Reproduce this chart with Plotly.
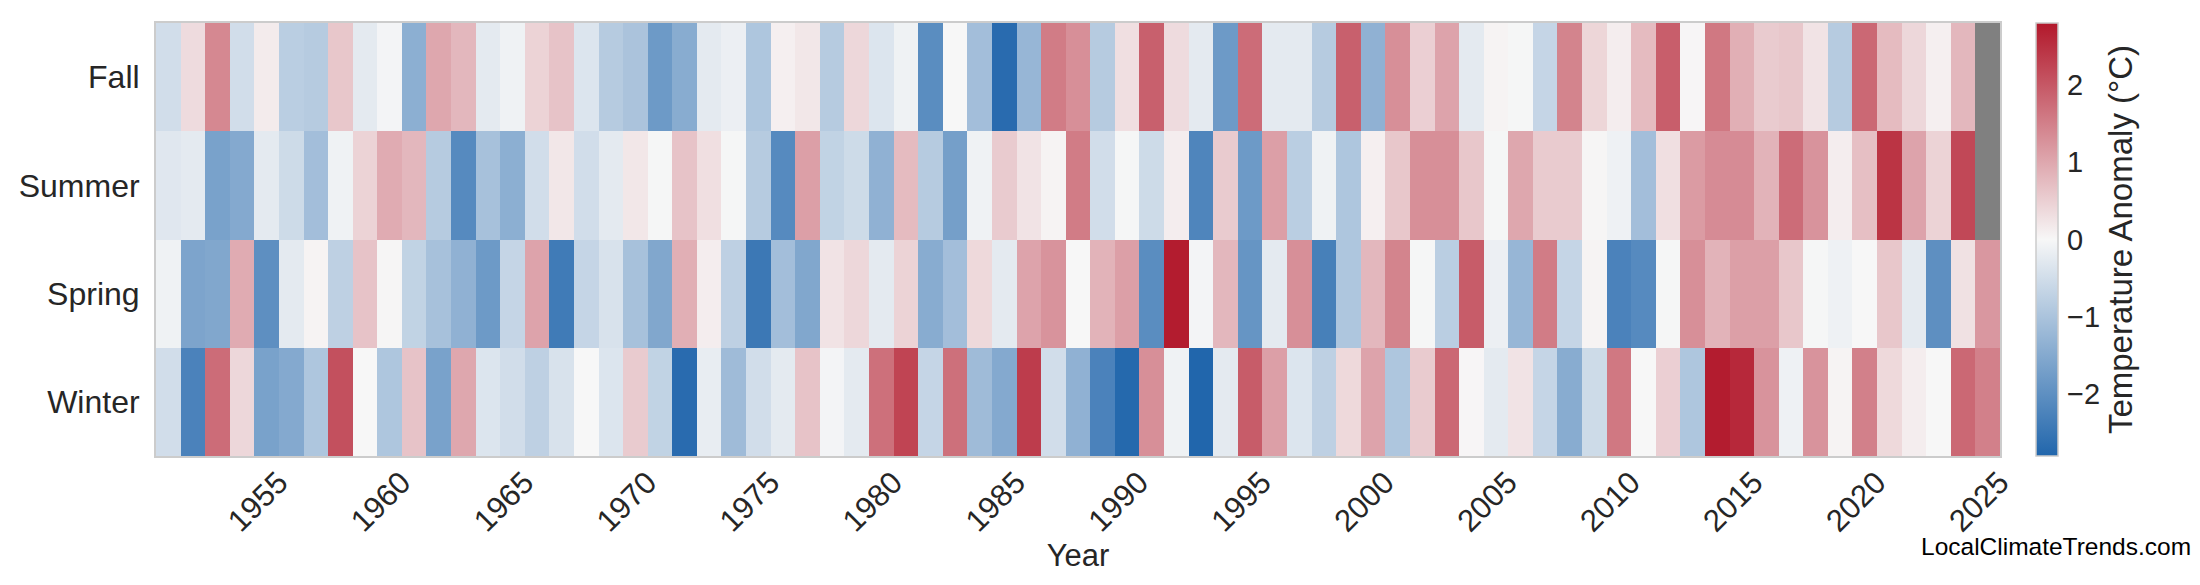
import plotly.graph_objects as go

years = list(range(1951, 2026))
seasons = ["Fall", "Summer", "Spring", "Winter"]

fall = [-0.5, 0.35, 1.4, -0.5, 0.15, -0.8, -0.85, 0.6, -0.25, -0.05,
        -1.4, 1.0, 0.8, -0.25, -0.1, 0.45, 0.65, -0.35, -0.85, -1.0,
        -1.8, -1.45, -0.25, -0.15, -0.95, 0.1, 0.2, -0.85, 0.4, -0.35,
        -0.1, -2.05, 0.0, -1.1, -2.7, -1.25, 1.55, 1.3, -0.85, 0.3,
        1.9, 0.35, -0.25, -1.8, 1.75, -0.25, -0.25, -0.85, 1.9, -1.35,
        1.3, 0.5, 1.05, -0.25, 0.05, -0.02, -0.65, 1.45, 0.42, 0.12,
        0.75, 1.92, 0.02, 1.6, 0.9, 0.55, 0.6, 0.25, -0.85, 1.8,
        0.75, 0.4, 0.1, 0.8, None]

summer = [-0.3, -0.25, -1.65, -1.5, -0.25, -0.55, -1.1, -0.1, 0.45, 0.95,
          0.8, -0.85, -2.1, -1.05, -1.4, -0.5, 0.2, -0.5, -0.25, 0.2,
          -0.02, 0.65, 0.3, -0.02, -0.85, -2.1, 1.1, -0.7, -0.55, -1.35,
          0.75, -0.85, -1.7, -0.1, 0.55, 0.25, 0.05, 1.55, -0.5, -0.02,
          -0.55, 0.12, -2.2, 0.55, -1.8, 1.1, -0.8, -0.1, -0.95, 0.1,
          0.6, 1.3, 1.3, 0.6, -0.02, 1.0, 0.55, 0.55, 0.03, -0.12,
          -1.1, 0.3, 1.15, 1.35, 1.35, 0.85, 1.75, 1.25, 0.12, 0.7,
          2.45, 1.05, 0.45, 2.2, None]

spring = [-0.1, -1.6, -1.55, 0.95, -2.0, -0.25, 0.05, -0.75, 0.65, 0.03,
          -0.7, -1.05, -1.35, -1.8, -0.65, 1.05, -2.4, -0.65, -0.4, -1.05,
          -1.55, 0.9, 0.12, -0.75, -2.45, -1.1, -1.55, 0.25, 0.4, -0.25,
          0.45, -1.45, -1.1, 0.38, -0.25, 1.05, 1.25, 0.0, 0.85, 1.1,
          -2.05, 2.75, -0.05, 0.8, -1.9, -0.25, 1.3, -2.3, -0.95, 0.8,
          1.45, -0.02, -0.8, 1.95, -0.15, -1.25, 1.55, -0.65, 0.05, -2.25,
          -2.1, -0.02, 1.3, 0.85, 1.1, 1.1, 0.6, -0.02, -0.12, 0.0,
          0.6, -0.25, -2.0, 0.28, 1.2]

winter = [-0.5, -2.25, 1.75, 0.4, -1.65, -1.5, -0.95, 2.1, 0.0, -0.95,
          0.65, -1.65, 1.0, -0.35, -0.5, -0.75, -0.4, 0.0, -0.35, 0.55,
          -0.7, -2.7, -0.2, -1.15, -0.5, -0.25, 0.65, -0.05, -0.25, 1.7,
          2.25, -0.65, 1.7, -1.15, -1.5, 2.35, -0.5, -1.35, -2.25, -2.75,
          1.3, -0.1, -2.8, -0.25, 1.95, 1.1, -0.35, -0.75, 0.38, 1.05,
          -0.95, 0.55, 1.8, 0.02, -0.25, 0.25, -0.65, -1.45, -0.55, 1.6,
          0.0, 0.5, -0.95, 2.75, 2.6, 1.25, -0.12, 1.25, 0.05, 1.5,
          0.38, 0.12, 0.0, 1.8, 1.5]

x_ticks = list(range(1955, 2026, 5))
cbar_ticks = [-2, -1, 0, 1, 2]
cbar_labels = ["\u22122", "\u22121", "0", "1", "2"]

txt = "#262626"
fnt = "Liberation Sans, Arial, sans-serif"

fig = go.Figure(go.Heatmap(
    z=[fall, summer, spring, winter],
    x=years,
    y=seasons,
    zmin=-2.8, zmax=2.8,
    colorscale=[[0, "#2166ac"], [0.5, "#f7f7f7"], [1, "#b2182b"]],
    xgap=0, ygap=0,
    hoverongaps=False,
    colorbar=dict(
        x=1.0196, xanchor="left", xpad=0, y=0.5, yanchor="middle", ypad=0,
        len=1, lenmode="fraction", thickness=22, thicknessmode="pixels",
        outlinewidth=1.5, outlinecolor="#cccccc",
        tickvals=cbar_ticks, ticktext=cbar_labels,
        ticks="outside", ticklen=3, tickcolor="rgba(0,0,0,0)",
        tickfont=dict(size=29, color=txt, family=fnt),
        title=dict(text="Temperature Anomaly (°C)", side="right",
                   font=dict(size=33, color=txt, family=fnt)),
    ),
))

fig.update_layout(
    width=2200, height=585,
    margin=dict(l=148, r=208, t=15, b=137, autoexpand=False),
    plot_bgcolor="#808080", paper_bgcolor="white",
    font=dict(family=fnt, color=txt),
    xaxis=dict(
        range=[1950.5, 2025.5], tickvals=x_ticks, tickangle=-45,
        tickfont=dict(size=31, color=txt), ticks="",
        ticklabelshift=12, ticklabelstandoff=-6, automargin=False,
        showgrid=False, zeroline=False,
        showline=True, mirror=True, linecolor="#cccccc", linewidth=2,
        title=dict(text="Year", font=dict(size=31, color=txt), standoff=5),
    ),
    yaxis=dict(
        autorange="reversed", tickfont=dict(size=32, color=txt), ticks="",
        ticklabelstandoff=8, automargin=False,
        showgrid=False, zeroline=False,
        showline=True, mirror=True, linecolor="#cccccc", linewidth=2,
    ),
    annotations=[dict(
        text="LocalClimateTrends.com", xref="paper", yref="paper",
        x=1.0304, y=-0.21, xanchor="center", yanchor="middle",
        showarrow=False, font=dict(size=24.5, color="black", family=fnt),
    )],
)

fig.write_html("out.html")
